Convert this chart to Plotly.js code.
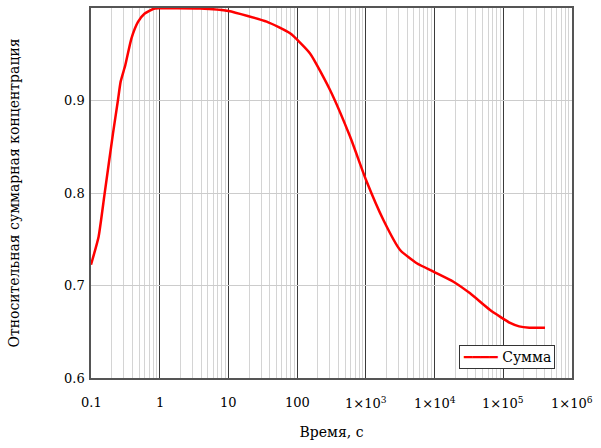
<!DOCTYPE html>
<html>
<head>
<meta charset="utf-8">
<script src="https://cdn.plot.ly/plotly-3.0.1.min.js"></script>
<style>body{margin:0;background:#fff}#chart{width:601px;height:448px}</style>
</head>
<body>
<div id="chart"></div>
<script>
// время, с
const times = [0.1, 0.129, 0.158, 0.209, 0.247, 0.270, 0.316, 0.387, 0.483, 0.605, 0.80, 0.95, 1.5, 3.86, 10, 36, 78.9, 154, 301, 589, 1006, 1800, 3150, 5510, 9620, 18800, 32900, 64300, 125600, 170000, 240000, 405000];
// относительная суммарная концентрация
const conc = [0.7225, 0.7528, 0.7996, 0.8645, 0.9005, 0.9204, 0.9384, 0.967, 0.985, 0.994, 0.9989, 0.9996, 0.9998, 0.9995, 0.9968, 0.9852, 0.9726, 0.9509, 0.9114, 0.861, 0.814, 0.7708, 0.7384, 0.724, 0.715, 0.7041, 0.6915, 0.6735, 0.6595, 0.6558, 0.6544, 0.6544];

const xTickVals = [0.1, 1, 10, 100, 1e3, 1e4, 1e5, 1e6];
const xTickText = ['0.1', '1', '10', '100', '1×10<sup>3</sup>', '1×10<sup>4</sup>', '1×10<sup>5</sup>', '1×10<sup>6</sup>'];
const yTickVals = [0.6, 0.7, 0.8, 0.9];
const yTickText = ['0.6', '0.7', '0.8', '0.9'];
const seriesName = 'Сумма';

const fnt = { family: 'DejaVu Serif', size: 13, color: '#000000' };

// подписи делений рисуем аннотациями (шрифт делений не применялся)
const labels = [];
xTickVals.forEach((v, i) => {
    labels.push({
        x: Math.log10(v), xref: 'x', y: 0, yref: 'paper',
        xanchor: 'center', yanchor: 'top', yshift: -15,
        text: xTickText[i], showarrow: false, font: fnt
    });
});
yTickVals.forEach((v, i) => {
    labels.push({
        x: 0, xref: 'paper', y: v, yref: 'y',
        xanchor: 'right', yanchor: 'middle', xshift: -4,
        text: yTickText[i], showarrow: false, font: fnt
    });
});
// легенда
labels.push({
    x: 0.765, xref: 'paper', y: 0.088, yref: 'paper',
    xanchor: 'left', yanchor: 'top',
    text: '<span style="color:#ff0000">━━━━</span> ' + seriesName,
    showarrow: false,
    font: { family: 'DejaVu Serif', size: 14, color: '#000000' },
    bgcolor: '#ffffff', bordercolor: '#333333', borderwidth: 1, borderpad: 3
});

Plotly.newPlot('chart', [
    {
        x: times,
        y: conc,
        type: 'scatter',
        mode: 'lines',
        name: seriesName,
        line: { color: '#ff0000', width: 2.5, shape: 'spline', smoothing: 0.5 }
    }
], {
    width: 601,
    height: 448,
    margin: { l: 91, r: 29, t: 8, b: 70 },
    paper_bgcolor: '#ffffff',
    plot_bgcolor: '#ffffff',
    font: { family: 'DejaVu Serif', size: 12, color: '#000000' },
    showlegend: false,
    xaxis: {
        type: 'log',
        range: [-1, 6],
        tickvals: xTickVals,
        showticklabels: false,
        showgrid: true,
        gridcolor: '#3a3a3a',
        gridwidth: 1,
        minor: { dtick: 'D1', showgrid: true, gridcolor: '#d4d4d4', gridwidth: 1 },
        showline: true,
        linecolor: '#555',
        linewidth: 1.5,
        mirror: true,
        ticks: '',
        title: { text: 'Время, с', standoff: 48 },
        zeroline: false
    },
    yaxis: {
        range: [0.6, 1.0],
        tickvals: yTickVals,
        showticklabels: false,
        showgrid: true,
        gridcolor: '#cccccc',
        showline: true,
        linecolor: '#555',
        linewidth: 1.5,
        mirror: true,
        ticks: '',
        title: { text: 'Относительная суммарная концентрация', standoff: 66 },
        zeroline: false
    },
    annotations: labels
}, { displayModeBar: false });
</script>
</body>
</html>
